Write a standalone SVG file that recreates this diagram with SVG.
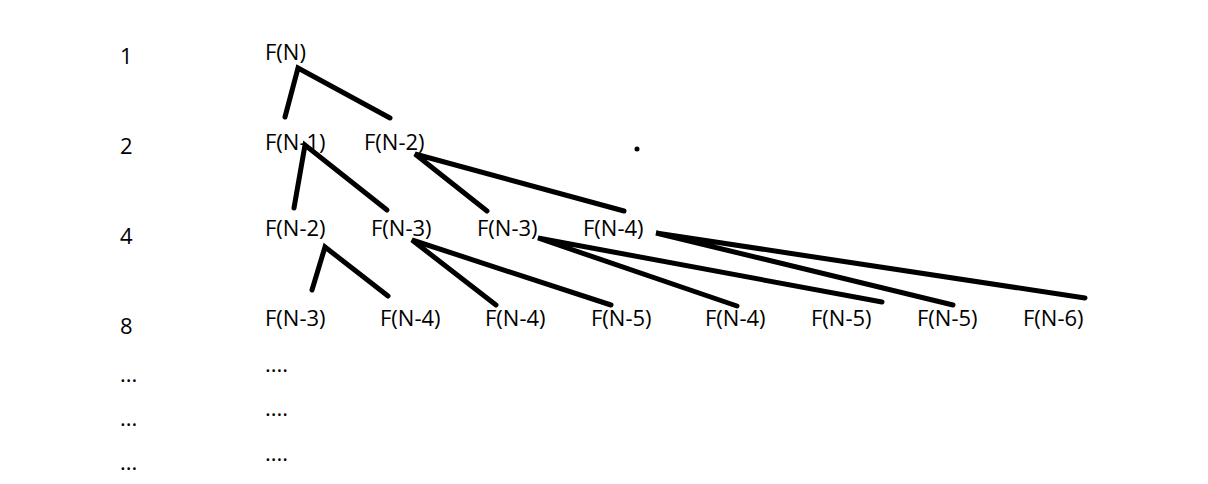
<svg xmlns="http://www.w3.org/2000/svg" width="1208" height="484" viewBox="0 0 1208 484">
<style>text{font-family:"Open Sans","Noto Sans",sans-serif;font-size:22px;fill:#000}.l{stroke:#000;stroke-width:5;stroke-linecap:round;fill:none}</style>
<rect width="1208" height="484" fill="#fff"/>
<g id="levels"><text x="120" y="64">1</text><text x="120" y="154">2</text><text x="120" y="244">4</text><text x="120" y="334">8</text>
<text x="120" y="382">...</text><text x="120" y="426">...</text><text x="120" y="470">...</text></g>
<g id="n1"><text x="265" y="60">F(N)</text></g>
<g id="n2"><text x="265" y="150">F(N-1)</text><text x="364" y="150">F(N-2)</text></g>
<g id="n3"><text x="265" y="236">F(N-2)</text><text x="371" y="236">F(N-3)</text><text x="477" y="236">F(N-3)</text><text x="583" y="236">F(N-4)</text></g>
<g id="n4"><text x="265" y="326">F(N-3)</text><text x="380" y="326">F(N-4)</text><text x="485" y="326">F(N-4)</text><text x="591" y="326">F(N-5)</text><text x="705" y="326">F(N-4)</text><text x="811" y="326">F(N-5)</text><text x="917" y="326">F(N-5)</text><text x="1023" y="326">F(N-6)</text></g>
<g id="more"><text x="265" y="372">....</text><text x="265" y="416">....</text><text x="265" y="461">....</text></g>
<circle cx="637" cy="149" r="2.5"/>
<g id="connectors">
<path class="l" d="M285 117L298 68L390 118"/>
<path class="l" d="M294 208L305 145L387 210"/>
<path class="l" d="M487 211L415 154L624 211"/>
<path class="l" d="M312 290L325 247L388 296"/>
<path class="l" d="M496 305L412 240L611 305"/>
<path class="l" d="M737 306L538 238L882 302"/>
<path class="l" d="M953 305L656 233L1085 298"/>
</g>
</svg>
